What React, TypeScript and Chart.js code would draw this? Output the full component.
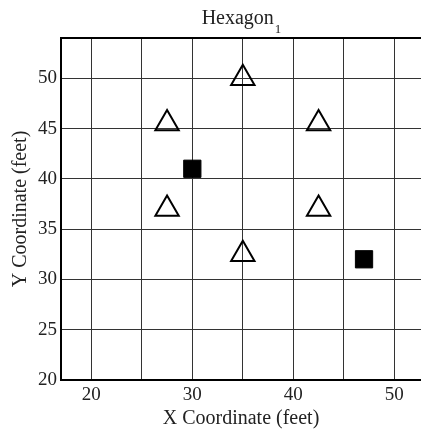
import React, { useEffect, useRef } from "react";
import { Chart, registerables } from "chart.js";

Chart.register(...registerables);

const triangleX = [35, 27.5, 42.5, 27.5, 42.5, 35];
const triangleY = [50, 45.5, 45.5, 37, 37, 32.5];
const squareX = [30, 47];
const squareY = [41, 32];
const xTickLabels = [20, 30, 40, 50];
const yTickLabels = [20, 25, 30, 35, 40, 45, 50];
const titleMain = "Hexagon";
const titleSub = "1";
const xTitle = "X Coordinate (feet)";
const yTitle = "Y Coordinate (feet)";

const FONT = "'Liberation Serif', 'Times New Roman', serif";

const framePlugin = {
  id: "frameAndTitle",
  afterDraw(chart: any) {
    const { ctx, chartArea } = chart;
    ctx.save();
    ctx.strokeStyle = "#000";
    ctx.lineWidth = 2;
    ctx.beginPath();
    ctx.moveTo(chartArea.left - 1, chartArea.top);
    ctx.lineTo(chartArea.right + 2, chartArea.top);
    ctx.stroke();
    // title with subscript
    ctx.fillStyle = "#222";
    ctx.textBaseline = "alphabetic";
    ctx.font = `20px ${FONT}`;
    const w1 = ctx.measureText(titleMain).width;
    ctx.font = `13px ${FONT}`;
    const w2 = ctx.measureText(titleSub).width;
    const cx = (chartArea.left + chartArea.right) / 2;
    const x0 = cx - (w1 + w2) / 2;
    ctx.font = `20px ${FONT}`;
    ctx.textAlign = "left";
    ctx.fillText(titleMain, x0, 24);
    ctx.font = `13px ${FONT}`;
    ctx.fillText(titleSub, x0 + w1 + 1, 33);
    ctx.restore();
  },
};

export default function App() {
  const ref = useRef<HTMLCanvasElement | null>(null);
  useEffect(() => {
    if (!ref.current) return;
    const chart: any = new Chart(ref.current, {
      type: "scatter",
      data: {
        datasets: [
          {
            data: triangleX.map((x, i) => ({ x, y: triangleY[i] })),
            pointStyle: "triangle",
            pointRadius: 13.5,
            pointBorderWidth: 2,
            borderColor: "#000",
            backgroundColor: "rgba(0,0,0,0)",
            pointBackgroundColor: "rgba(0,0,0,0)",
            pointBorderColor: "#000",
          },
          {
            data: squareX.map((x, i) => ({ x, y: squareY[i] })),
            pointStyle: "rect",
            pointRadius: 12.2,
            pointBorderWidth: 1,
            borderColor: "#000",
            backgroundColor: "#000",
            pointBackgroundColor: "#000",
            pointBorderColor: "#000",
          },
        ],
      },
      options: {
        responsive: false,
        animation: false,
        events: [],
        layout: { autoPadding: false, padding: { top: 38, left: 0, right: 0, bottom: 0 } },
        plugins: {
          legend: { display: false },
          tooltip: { enabled: false },
          title: { display: false },
        },
        scales: {
          x: {
            type: "linear",
            min: 17,
            max: 52.64,
            afterFit: (s: any) => {
              s.height = 55;
              s.paddingLeft = 0;
              s.paddingRight = 0;
            },
            ticks: {
              stepSize: 5,
              includeBounds: false,
              padding: 4,
              color: "#222",
              font: { family: FONT, size: 19 },
              callback: (v: any) => (xTickLabels.includes(Number(v)) ? String(v) : ""),
              maxRotation: 0,
              autoSkip: false,
            },
            grid: { color: "#333", lineWidth: 1, drawTicks: false },
            border: { color: "#000", width: 2 },
            title: {
              display: true,
              text: xTitle,
              color: "#222",
              font: { family: FONT, size: 20 },
              padding: { top: 0, bottom: 4 },
            },
          },
          y: {
            type: "linear",
            min: 20,
            max: 54,
            afterFit: (s: any) => {
              s.width = 61;
            },
            ticks: {
              stepSize: 5,
              includeBounds: false,
              padding: 4,
              color: "#222",
              font: { family: FONT, size: 19 },
              callback: (v: any) => (yTickLabels.includes(Number(v)) ? String(v) : ""),
              autoSkip: false,
            },
            grid: { color: "#333", lineWidth: 1, drawTicks: false },
            border: { color: "#000", width: 2 },
            title: {
              display: true,
              text: yTitle,
              color: "#222",
              font: { family: FONT, size: 20 },
              padding: { top: 9, bottom: 0 },
            },
          },
        },
      },
      plugins: [framePlugin],
    });
    return () => chart.destroy();
  }, []);
  return (
    <div style={{ position: "absolute", left: 0, top: 0, width: 421, height: 435, overflow: "hidden", background: "#fff" }}>
      <canvas ref={ref} width={421} height={435} />
    </div>
  );
}
